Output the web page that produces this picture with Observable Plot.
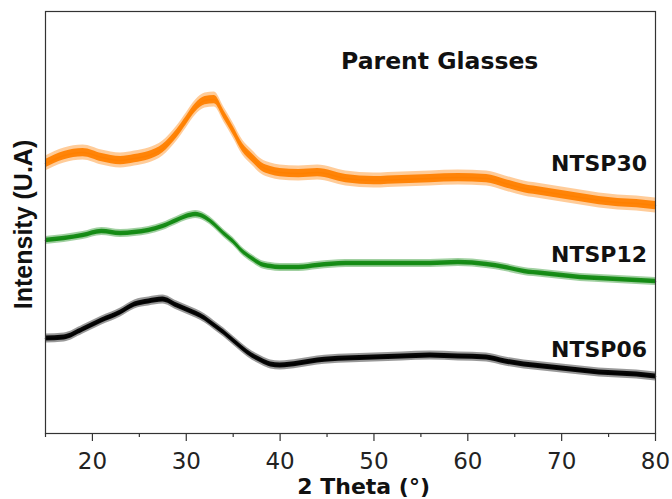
<!DOCTYPE html>
<html>
<head>
<meta charset="utf-8">
<script src="https://cdn.jsdelivr.net/npm/d3@7"></script>
<script src="https://cdn.jsdelivr.net/npm/@observablehq/plot@0.6"></script>
<style>
  html, body { margin: 0; padding: 0; background: #fff; }
  #chart svg { display: block; overflow: visible; }
</style>
</head>
<body>
<div id="chart"></div>
<script>
// 2θ sample positions (degrees)
const theta = [15,17,19,21,23,24.5,26,27.5,29,30,31,32,33,34,35,36,37,38,39,40,42,44,47,50,53,56,59,62,64,66,68,70,72,74,76,78,80];

// Intensity (arbitrary units), offset-stacked curves
const ntsp30 = [270,278,281,276,273,275,278,285,300,313,326,333,334,319,303,286,276,267,263,261,260,261,255,253,254,255,256,255,250,245,242,239,236,233,231,230,228];
const ntsp12 = [193,195,198,202,200,201,203,207,213,217,219,216,209,200,192,182,175,169,167,166,166,168,170,170,170,170,171,169,166,162,160,158,156,155,154,153,152];
const ntsp06 = [95,96,104,113,121,129,132,134,128,124,120,115,108,101,93,85,78,73,69,68,70,73,75,76,77,78,77,76,72,69,67,65,63,61,60,59,57];

// Half-amplitude of the measurement noise for each pattern (a.u.)
const noise = [7.5, 4, 4.5];

const seriesNames = ["NTSP30", "NTSP12", "NTSP06"];
const seriesValues = [ntsp30, ntsp12, ntsp06];
const colors = ["#ff8000", "#138a13", "#000000"];

const majorTicks = [20,30,40,50,60,70,80];
const minorTicks = [15,25,35,45,55,65,75];

const rows = seriesNames.flatMap((name, i) =>
  theta.map((t, j) => ({name, theta: t, v: seriesValues[i][j], s: noise[i]}))
);

const marks = [];
seriesNames.forEach((name, i) => {
  const data = rows.filter(d => d.name === name);
  marks.push(Plot.areaY(data, {x: "theta", y1: d => d.v - d.s, y2: d => d.v + d.s, fill: colors[i], fillOpacity: 0.4, curve: "monotone-x"}));
  marks.push(Plot.areaY(data, {x: "theta", y1: d => d.v - d.s * 0.55, y2: d => d.v + d.s * 0.55, fill: colors[i], fillOpacity: 0.95, curve: "monotone-x"}));
  marks.push(Plot.line(data, {x: "theta", y: "v", stroke: colors[i], strokeWidth: 1.5, curve: "monotone-x"}));
});

const chart = Plot.plot({
  width: 672,
  height: 499,
  marginLeft: 45,
  marginRight: 17,
  marginTop: 11,
  marginBottom: 66,
  style: {fontFamily: "'DejaVu Sans', sans-serif", background: "#fff", color: "#222"},
  x: {domain: [15, 80]},
  y: {domain: [0, 422], axis: null},
  marks: [
    ...marks,
    Plot.frame({stroke: "#333", strokeWidth: 1.2}),
    Plot.axisX({ticks: majorTicks, tickSize: 8, tickPadding: 11, fontSize: 23, label: null, stroke: "#333", strokeWidth: 1.2}),
    Plot.axisX({ticks: minorTicks, tickSize: 4, text: null, label: null, stroke: "#333", strokeWidth: 1.2}),
    Plot.text(seriesNames, {x: 79.1, y: [269.3, 178.3, 84], text: d => d, textAnchor: "end", lineAnchor: "middle", fontSize: 22, fontWeight: "bold", fill: "#111"}),
    Plot.text(["Parent Glasses"], {x: 46.5, y: 372.5, text: d => d, textAnchor: "start", lineAnchor: "middle", fontSize: 23.5, fontWeight: "bold", fill: "#111"}),
    Plot.text(["2 Theta (°)"], {x: 48.9, frameAnchor: "bottom", lineAnchor: "middle", textAnchor: "middle", dy: 53, text: d => d, fontSize: 22, fontWeight: "bold", fill: "#111"}),
    Plot.text(["Intensity (U.A)"], {frameAnchor: "left", textAnchor: "middle", lineAnchor: "middle", dx: -22, dy: 2, rotate: -90, text: d => d, fontSize: 25, fontWeight: "bold", fontFamily: "'Liberation Sans', Arial, sans-serif", fill: "#111"})
  ]
});
document.getElementById("chart").appendChild(chart);
</script>
</body>
</html>
